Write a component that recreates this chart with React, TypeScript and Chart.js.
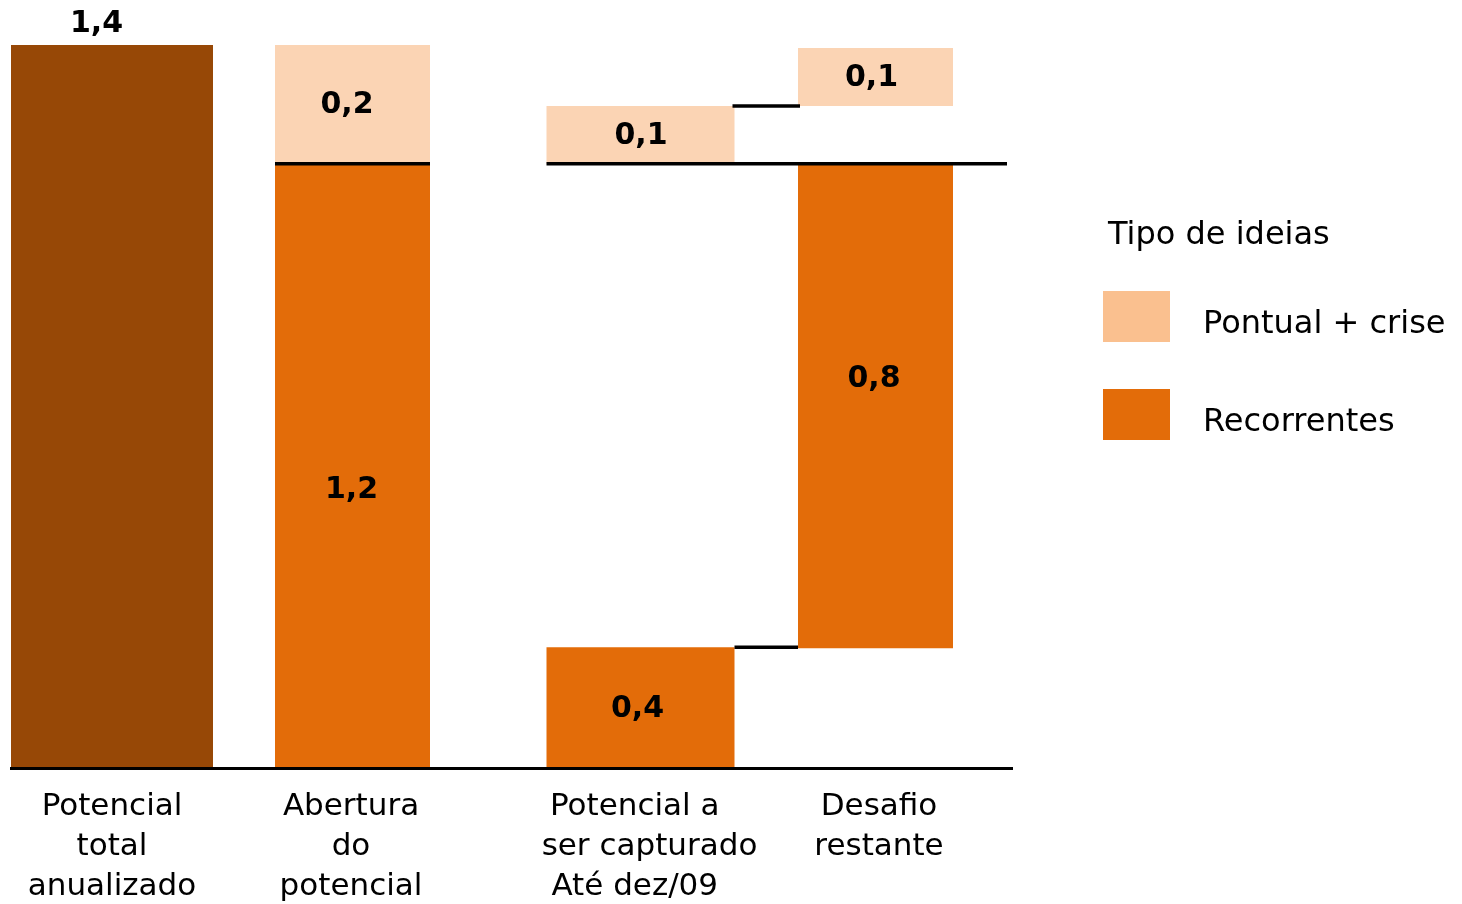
import React, { useEffect, useRef } from "react";
import { Chart, registerables } from "chart.js";

Chart.register(...registerables);

// ---------- data ----------
const categories: string[][] = [
  ["Potencial", "total", "anualizado"],
  ["Abertura", "do", "potencial"],
  ["Potencial a   ", "ser capturado", "Até dez/09   "],
  ["Desafio", "restante"],
];
const seriesNames = ["Total", "Pontual + crise", "Recorrentes"];
// floating bar ranges [start, end] per category (as drawn)
const totalValues: ([number, number] | null)[] = [[0, 1.4], null, null, null];
const pontualValues: ([number, number] | null)[] = [null, [1.17, 1.4], [1.17, 1.282], [1.282, 1.394]];
const recorrentesValues: ([number, number] | null)[] = [null, [0, 1.17], [0, 0.234], [0.232, 1.17]];
// printed value labels
const totalLabels: (string | null)[] = ["1,4", null, null, null];
const pontualLabels: (string | null)[] = [null, "0,2", "0,1", "0,1"];
const recorrentesLabels: (string | null)[] = [null, "1,2", "0,4", "0,8"];
const legendTitle = "Tipo de ideias";
const legendLabels = ["Pontual + crise", "Recorrentes"];

// ---------- layout / style ----------
const BAR_CENTERS = [101, 341.5, 629.5, 864.5];
const BAR_WIDTHS = [202, 155, 188, 155];
const TICK_CENTERS = [101, 340, 638.5, 868];
const LABEL_OFFSETS: Record<string, ([number, number] | null)[]> = {
  total: [[-15.5, -21], null, null, null],
  pontual: [null, [-5.5, 0.5], [0.5, 1], [-4, 1]],
  recorrentes: [null, [-1, 24.6], [-3, 1.4], [-1.5, -27]],
};
const COLORS: Record<string, string> = {
  total: "#974806",
  pontual: "#FBD4B4",
  recorrentes: "#E36C09",
};
const LEGEND_COLORS = ["#FAC08F", "#E36C09"];
const FONT = "'DejaVu Sans', Verdana, sans-serif";

const extrasPlugin = {
  id: "waterfallExtras",
  afterDatasetsDraw(chart: any) {
    const ctx = chart.ctx;
    const yScale = chart.scales.y;
    const find = (key: string, cat: number) => {
      const idx = chart.data.datasets.findIndex((d: any) => d.seriesKey === key && d.cat === cat);
      const el = chart.getDatasetMeta(idx).data[0];
      return { el, left: el.x - el.width / 2, right: el.x + el.width / 2 };
    };
    // connectors
    const segs: [number, number, number][] = [
      [recorrentesValues[1]![1], find("pontual", 1).left, find("pontual", 1).right],
      [pontualValues[2]![0], find("pontual", 2).left, chart.chartArea.right - 5],
      [pontualValues[2]![1], find("pontual", 2).right - 2, find("pontual", 3).left + 2],
      [recorrentesValues[2]![1], find("recorrentes", 2).right, find("recorrentes", 3).left],
    ];
    ctx.save();
    ctx.strokeStyle = "#000";
    ctx.lineWidth = 3.5;
    segs.forEach(([v, x1, x2]) => {
      const y = yScale.getPixelForValue(v);
      ctx.beginPath();
      ctx.moveTo(x1, y);
      ctx.lineTo(x2, y);
      ctx.stroke();
    });
    // value labels
    ctx.font = `bold 30px ${FONT}`;
    ctx.fillStyle = "#000";
    ctx.textAlign = "center";
    ctx.textBaseline = "middle";
    chart.data.datasets.forEach((d: any) => {
      if (!d.valueLabel) return;
      const { el } = find(d.seriesKey, d.cat);
      const off = LABEL_OFFSETS[d.seriesKey][d.cat] || [0, 0];
      let y: number;
      if (d.seriesKey === "total") y = el.y + off[1];
      else y = (el.y + el.base) / 2 + off[1];
      ctx.fillText(d.valueLabel, el.x + off[0], y);
    });
    ctx.restore();
  },
  afterDraw(chart: any) {
    const ctx = chart.ctx;
    ctx.save();
    ctx.font = `32px ${FONT}`;
    ctx.fillStyle = "#000";
    ctx.textAlign = "left";
    ctx.textBaseline = "alphabetic";
    ctx.fillText(legendTitle, 1108, 244);
    legendLabels.forEach((lab, i) => {
      const top = 291 + i * 98;
      ctx.fillStyle = LEGEND_COLORS[i];
      ctx.fillRect(1103, top, 67, 51);
      ctx.fillStyle = "#000";
      ctx.fillText(lab, 1203, top + 42);
    });
    ctx.restore();
  },
};

export default function App() {
  const ref = useRef<HTMLCanvasElement>(null);
  useEffect(() => {
    document.body.style.margin = "0";
    const canvas = ref.current!;
    const datasets: any[] = [];
    const addSeries = (
      key: string,
      name: string,
      values: ([number, number] | null)[],
      labels: (string | null)[]
    ) => {
      values.forEach((v, i) => {
        if (!v) return;
        datasets.push({
          label: name,
          seriesKey: key,
          cat: i,
          valueLabel: labels[i],
          data: [{ x: BAR_CENTERS[i], y: v }],
          backgroundColor: COLORS[key],
          barThickness: BAR_WIDTHS[i],
          grouped: false,
          borderWidth: 0,
          inflateAmount: 0,
        });
      });
    };
    addSeries("total", seriesNames[0], totalValues, totalLabels);
    addSeries("pontual", seriesNames[1], pontualValues, pontualLabels);
    addSeries("recorrentes", seriesNames[2], recorrentesValues, recorrentesLabels);

    const chart = new Chart(canvas, {
      type: "bar",
      data: { datasets },
      options: {
        animation: false,
        responsive: false,
        maintainAspectRatio: false,
        devicePixelRatio: 1,
        layout: { padding: { left: 11, right: 450, top: 45, bottom: 0 } },
        plugins: { legend: { display: false }, tooltip: { enabled: false } },
        scales: {
          x: {
            type: "linear",
            min: 0,
            max: 1001,
            offset: false,
            grid: { display: false, drawTicks: false },
            border: { display: true, color: "#000", width: 3, z: 1 },
            afterBuildTicks: (scale: any) => {
              scale.ticks = TICK_CENTERS.map((v) => ({ value: v }));
            },
            ticks: {
              autoSkip: false,
              maxRotation: 0,
              minRotation: 0,
              padding: 19,
              color: "#000",
              font: { family: FONT, size: 31, lineHeight: 40 / 31 },
              callback: (_v: any, i: number) => categories[i],
            },
          },
          y: { display: false, min: 0, max: 1.4 },
        },
      } as any,
      plugins: [extrasPlugin],
    });
    return () => chart.destroy();
  }, []);
  return (
    <div
      style={{
        position: "fixed",
        left: 0,
        top: 0,
        width: 1462,
        height: 904,
        overflow: "hidden",
        background: "#fff",
      }}
    >
      <canvas ref={ref} width={1462} height={926} style={{ display: "block", width: 1462, height: 926 }} />
    </div>
  );
}
